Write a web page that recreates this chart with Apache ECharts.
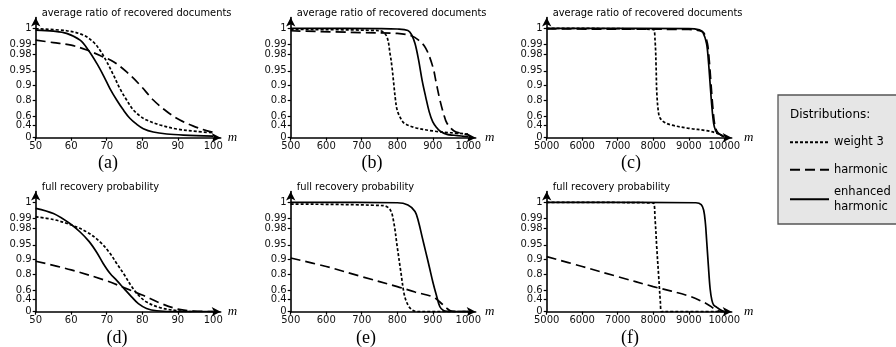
<!DOCTYPE html>
<html>
<head>
<meta charset="utf-8">
<script src="https://cdn.jsdelivr.net/npm/echarts@6/dist/echarts.min.js"></script>
<style>
  html, body { margin: 0; padding: 0; background: #fff; }
  #chart { width: 896px; height: 347px; }
</style>
</head>
<body>
<div id="chart"></div>
<script>
// ---- data (p = probability) ----
const yTicks = [0, 0.4, 0.6, 0.8, 0.9, 0.95, 0.98, 0.99, 1]
const yTickLabels = ['0', '0.4', '0.6', '0.8', '0.9', '0.95', '0.98', '0.99', '1']
const xTicksSmall = [50, 60, 70, 80, 90, 100]
const xTicksMid = [500, 600, 700, 800, 900, 1000]
const xTicksLarge = [5000, 6000, 7000, 8000, 9000, 10000]

const seriesNames = ['weight 3', 'harmonic', 'enhanced harmonic']
const panelLabels = ['(a)', '(b)', '(c)', '(d)', '(e)', '(f)']
const panelTitles = ['average ratio of recovered documents', 'full recovery probability']

// (a) average ratio, m = 50..100
const avgSmallWeight3 = [[50, 0.9998], [58.7, 0.9989], [63.4, 0.9967], [66.2, 0.9922], [68.1, 0.9848], [70, 0.969], [71.9, 0.938], [73.7, 0.883], [75.6, 0.804], [77.5, 0.695], [79.4, 0.605], [81.2, 0.53], [85, 0.42], [89.7, 0.31], [95.3, 0.235], [100, 0.19]]
const avgSmallHarmonic = [[50, 0.9935], [55, 0.9917], [60, 0.9896], [64.4, 0.985], [68.1, 0.9785], [71.9, 0.969], [75.6, 0.947], [79.4, 0.90], [83.1, 0.804], [86.9, 0.675], [90.6, 0.53], [94.4, 0.39], [98.1, 0.26], [100, 0.205]]
const avgSmallEnhanced = [[50, 0.9992], [55, 0.9987], [58.7, 0.9976], [62.5, 0.9935], [64.8, 0.985], [67.2, 0.966], [69, 0.938], [70.9, 0.883], [72.8, 0.804], [74.7, 0.695], [76.5, 0.566], [78.4, 0.44], [80.3, 0.32], [83.1, 0.215], [86.9, 0.145], [91.6, 0.105], [100, 0.068]]

// (b) average ratio, m = 500..1000
const avgMidWeight3 = [[500, 0.9995], [750, 0.999], [770, 0.996], [780, 0.98], [785, 0.9595], [790, 0.908], [795, 0.805], [800, 0.69], [810, 0.56], [820, 0.46], [850, 0.35], [900, 0.25], [950, 0.19], [1000, 0.145]]
const avgMidHarmonic = [[500, 0.9989], [700, 0.998], [800, 0.9976], [840, 0.9963], [860, 0.9935], [880, 0.987], [900, 0.9595], [910, 0.908], [920, 0.805], [930, 0.65], [940, 0.46], [960, 0.25], [980, 0.17], [1000, 0.11]]
const avgMidEnhanced = [[500, 1], [750, 0.9999], [800, 0.9997], [830, 0.999], [840, 0.997], [850, 0.991], [860, 0.972], [870, 0.92], [880, 0.83], [890, 0.67], [900, 0.49], [910, 0.36], [920, 0.25], [940, 0.13], [960, 0.10], [980, 0.07], [1000, 0.04]]

// (c) average ratio, m = 5000..10000
const avgLargeWeight3 = [[5000, 1], [8000, 0.9995], [8050, 0.9935], [8080, 0.9595], [8100, 0.855], [8150, 0.65], [8200, 0.56], [8300, 0.49], [8500, 0.42], [9000, 0.33], [9500, 0.26], [9800, 0.17], [10000, 0.04]]
const avgLargeHarmonic = [[5000, 0.9997], [9000, 0.9995], [9300, 0.999], [9420, 0.998], [9525, 0.991], [9575, 0.972], [9625, 0.908], [9675, 0.737], [9725, 0.46], [9775, 0.28], [9825, 0.19], [9925, 0.1], [10000, 0.05]]
const avgLargeEnhanced = [[5000, 1], [9000, 0.9999], [9300, 0.9993], [9400, 0.998], [9500, 0.991], [9550, 0.972], [9600, 0.908], [9650, 0.737], [9700, 0.46], [9750, 0.28], [9800, 0.19], [9900, 0.11], [10000, 0.04]]

// (d) full recovery, m = 50..100
const fullSmallWeight3 = [[50, 0.9915], [55, 0.9893], [60, 0.984], [64.4, 0.975], [68.1, 0.957], [70.9, 0.924], [72.8, 0.878], [75, 0.795], [77, 0.66], [78.9, 0.51], [81.2, 0.34], [85, 0.16], [90, 0.04], [94.4, 0]]
const fullSmallHarmonic = [[50, 0.89], [60, 0.837], [70, 0.735], [75, 0.64], [80, 0.51], [85, 0.31], [90, 0.105], [94.4, 0.03], [100, 0]]
const fullSmallEnhanced = [[50, 0.9971], [55, 0.9939], [60, 0.9845], [62.5, 0.975], [65, 0.958], [67.2, 0.927], [69, 0.878], [70.9, 0.81], [72.8, 0.74], [75, 0.62], [77, 0.47], [78.9, 0.29], [81.2, 0.13], [84.1, 0.04], [90, 0], [100, 0]]

// (e) full recovery, m = 500..1000
const fullMidWeight3 = [[500, 0.9992], [760, 0.9985], [780, 0.9963], [790, 0.987], [800, 0.944], [810, 0.823], [820, 0.51], [830, 0.25], [840, 0.09], [850, 0.02], [870, 0], [1000, 0]]
const fullMidHarmonic = [[500, 0.905], [600, 0.86], [700, 0.78], [800, 0.66], [850, 0.57], [900, 0.47], [920, 0.34], [940, 0.13], [950, 0.04], [970, 0], [1000, 0]]
const fullMidEnhanced = [[500, 1], [800, 0.9998], [830, 0.9988], [850, 0.9953], [860, 0.987], [870, 0.967], [880, 0.93], [890, 0.86], [900, 0.725], [910, 0.51], [920, 0.19], [930, 0.05], [940, 0.01], [960, 0], [1000, 0]]

// (f) full recovery, m = 5000..10000
const fullLargeWeight3 = [[5000, 1], [8000, 0.9997], [8050, 0.99], [8100, 0.94], [8150, 0.795], [8200, 0.34], [8230, 0], [10000, 0]]
const fullLargeHarmonic = [[5000, 0.911], [6000, 0.86], [7000, 0.78], [8000, 0.66], [9000, 0.49], [9500, 0.29], [9700, 0.13], [9800, 0.04], [10000, 0]]
const fullLargeEnhanced = [[5000, 1], [9200, 0.9998], [9350, 0.999], [9420, 0.996], [9470, 0.985], [9500, 0.963], [9550, 0.87], [9600, 0.63], [9650, 0.39], [9700, 0.25], [9800, 0.16], [9900, 0.07], [10000, 0]]

const panels = [
  { ticks: xTicksSmall, lines: [avgSmallWeight3, avgSmallHarmonic, avgSmallEnhanced] },
  { ticks: xTicksMid, lines: [avgMidWeight3, avgMidHarmonic, avgMidEnhanced] },
  { ticks: xTicksLarge, lines: [avgLargeWeight3, avgLargeHarmonic, avgLargeEnhanced] },
  { ticks: xTicksSmall, lines: [fullSmallWeight3, fullSmallHarmonic, fullSmallEnhanced] },
  { ticks: xTicksMid, lines: [fullMidWeight3, fullMidHarmonic, fullMidEnhanced] },
  { ticks: xTicksLarge, lines: [fullLargeWeight3, fullLargeHarmonic, fullLargeEnhanced] },
]

// ---- layout / style ----
// y scale stretches values near 1: t = ln(1.01/(1.01-p)) / ln(101)
const T = (p) => Math.log(1.01 / (1.01 - p)) / Math.log(101)
const yTicksT = yTicks.map(T)

const lefts = [35.7, 290.7, 546.7]
const tops = [17.5, 191.5]
const gridW = 185
const gridH = 120.2
const xStretch = gridW / 177.6
const yMax = gridH / 109.4

const sans = 'DejaVu Sans'
const serif = 'Liberation Serif'
const lineTypes = [[3, 2], [10, 5], 'solid']
const labelPos = [[108, 163], [372, 163], [631, 163], [117, 338], [366, 338], [630, 338]]

const chart = echarts.init(document.getElementById('chart'), null, { renderer: 'canvas' })

const grid = [], xAxis = [], yAxis = [], series = [], title = [], graphic = []

panels.forEach((pn, i) => {
  const col = i % 3, row = Math.floor(i / 3)
  const xMin = pn.ticks[0], xEnd = pn.ticks[pn.ticks.length - 1]
  grid.push({ left: lefts[col], top: tops[row], width: gridW, height: gridH })
  xAxis.push({
    type: 'value', gridIndex: i, min: xMin, max: xMin + (xEnd - xMin) * xStretch,
    name: 'm', nameLocation: 'end', nameGap: 7,
    nameTextStyle: { fontFamily: serif, fontStyle: 'italic', fontSize: 13, color: '#000' },
    axisLine: { lineStyle: { color: '#000', width: 1.6 }, symbol: ['none', 'arrow'], symbolSize: [7, 9] },
    axisTick: { length: 3, customValues: pn.ticks, lineStyle: { color: '#000', width: 1.2 } },
    axisLabel: { customValues: pn.ticks, margin: 4, fontFamily: sans, fontSize: 10, color: '#111', formatter: (v) => String(v) },
    splitLine: { show: false },
  })
  yAxis.push({
    type: 'value', gridIndex: i, min: 0, max: yMax,
    axisLine: { show: true, lineStyle: { color: '#000', width: 1.6 }, symbol: ['none', 'arrow'], symbolSize: [7, 9] },
    axisTick: { show: true, length: 3, customValues: yTicksT, lineStyle: { color: '#000', width: 1.2 } },
    axisLabel: {
      customValues: yTicksT, margin: 4, fontFamily: sans, fontSize: 10, color: '#111',
      formatter: (v) => {
        const k = yTicksT.findIndex((t) => Math.abs(t - v) < 1e-6)
        return k >= 0 ? yTickLabels[k] : ''
      },
    },
    splitLine: { show: false },
  })
  pn.lines.forEach((d, s) => {
    series.push({
      name: seriesNames[s], type: 'line', xAxisIndex: i, yAxisIndex: i,
      symbol: 'none', smooth: 0.35, silent: true,
      lineStyle: { color: '#000', width: 1.7, type: lineTypes[s] },
      itemStyle: { color: '#000' },
      data: d.map(([x, p]) => [x, T(p)]),
      z: 3 + s,
    })
  })
  title.push({
    text: panelTitles[row], left: lefts[col] + 6, top: tops[row] - 9, padding: 0,
    textStyle: { fontFamily: sans, fontSize: 9.9, fontWeight: 'normal', color: '#000' },
  })
  graphic.push({
    type: 'text', x: labelPos[i][0], y: labelPos[i][1],
    style: { text: panelLabels[i], fill: '#000', font: '18px "Liberation Serif"', align: 'center', verticalAlign: 'middle' },
  })
})

// legend box
graphic.push({
  type: 'rect', shape: { x: 778, y: 95, width: 130, height: 129 },
  style: { fill: '#e6e6e6', stroke: '#555', lineWidth: 1.3 }, z: -1,
})
graphic.push({
  type: 'text', x: 790, y: 115,
  style: { text: 'Distributions:', fill: '#000', font: '12px "DejaVu Sans"', verticalAlign: 'middle' },
})

const legendTops = [134.7, 162.3, 184.3]
const legend = seriesNames.map((n, k) => ({
  data: [n], left: 789, top: legendTops[k], orient: 'vertical', padding: 0,
  itemWidth: 39, itemHeight: 14, selectedMode: false,
  itemStyle: { opacity: 0 },
  textStyle: { fontFamily: sans, fontSize: 11.5, color: '#000', lineHeight: 15 },
  formatter: (name) => (name === 'enhanced harmonic' ? 'enhanced\nharmonic' : name),
}))

chart.setOption({
  animation: false,
  backgroundColor: '#fff',
  grid, xAxis, yAxis, series, title, graphic, legend,
})
</script>
</body>
</html>
